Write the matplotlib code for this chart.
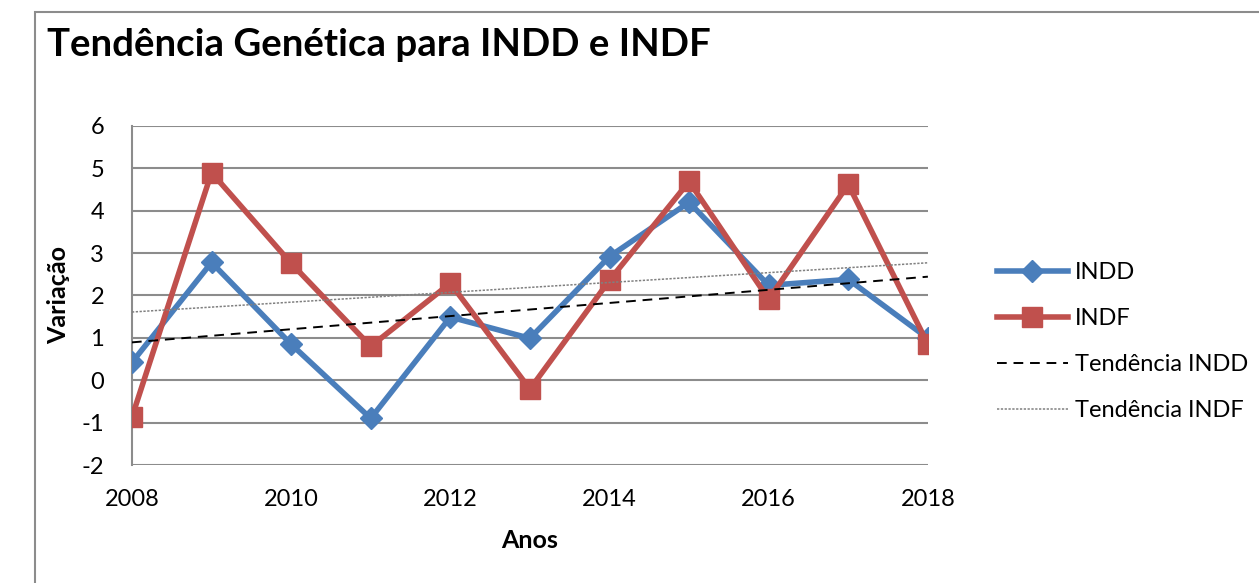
import matplotlib.pyplot as plt
import matplotlib.patches as patches
import numpy as np

# --- Data ---
anos = [2008, 2009, 2010, 2011, 2012, 2013, 2014, 2015, 2016, 2017, 2018]
indd = [0.42, 2.78, 0.85, -0.90, 1.49, 0.99, 2.92, 4.20, 2.24, 2.38, 0.99]
indf = [-0.87, 4.90, 2.76, 0.80, 2.29, -0.21, 2.36, 4.69, 1.91, 4.62, 0.85]
xticks = [2008, 2010, 2012, 2014, 2016, 2018]
yticks = [-2, -1, 0, 1, 2, 3, 4, 5, 6]

plt.rcParams['font.family'] = ['Lato', 'DejaVu Sans']
plt.rcParams['axes.unicode_minus'] = False

fig = plt.figure(figsize=(12.59, 5.83), dpi=100)
ax = fig.add_axes([0.1048, 0.2024, 0.6322, 0.5815])

# chart frame
fig.patches.append(patches.Rectangle((35 / 1259, -0.1), 1.2, 1 - 12 / 583 + 0.1,
                                     transform=fig.transFigure, fill=False,
                                     edgecolor='#8c8c8c', linewidth=1.5))

x = np.array(anos)
ax.plot(x, indd, color='#4A7EBB', lw=4, marker='D', ms=11, label='INDD', zorder=3)
ax.plot(x, indf, color='#C0504D', lw=4, marker='s', ms=14, label='INDF', zorder=4)

# linear trends
p1 = np.polyfit(x, indd, 1)
p2 = np.polyfit(x, indf, 1)
ax.plot(x, np.polyval(p1, x), color='black', lw=1.4, ls=(0, (5, 3.5)),
        label='Tendência INDD', zorder=5)
ax.plot(x, np.polyval(p2, x), color='#808080', lw=1.1, ls=(0, (1.5, 1)),
        label='Tendência INDF', zorder=5)

ax.set_xlim(2008, 2018)
ax.set_ylim(-2, 6)
ax.set_xticks(xticks)
ax.set_yticks(yticks)
ax.tick_params(length=0, labelsize=17)
ax.tick_params(axis='x', pad=17)
ax.tick_params(axis='y', pad=20)
ax.grid(axis='y', color='#8c8c8c', lw=1.5)
ax.set_axisbelow(True)
for s in ['top', 'right', 'bottom']:
    ax.spines[s].set_visible(False)
ax.spines['left'].set_color('#8c8c8c')
ax.spines['left'].set_linewidth(1.5)

ax.set_xlabel('Anos', fontsize=18, fontweight='bold', labelpad=14)
ax.set_ylabel('Variação', fontsize=18, fontweight='bold', labelpad=8)

fig.text(47 / 1259, 1 - 45 / 583, 'Tendência Genética para INDD e INDF',
         fontsize=27.6, fontweight='bold', va='center', ha='left')

ax.legend(loc='center left', bbox_to_anchor=(1.06, 0.364), frameon=False,
          fontsize=17, handlelength=3.0, labelspacing=1.05, handletextpad=0.3)

fig.savefig('out.png', dpi=100)
